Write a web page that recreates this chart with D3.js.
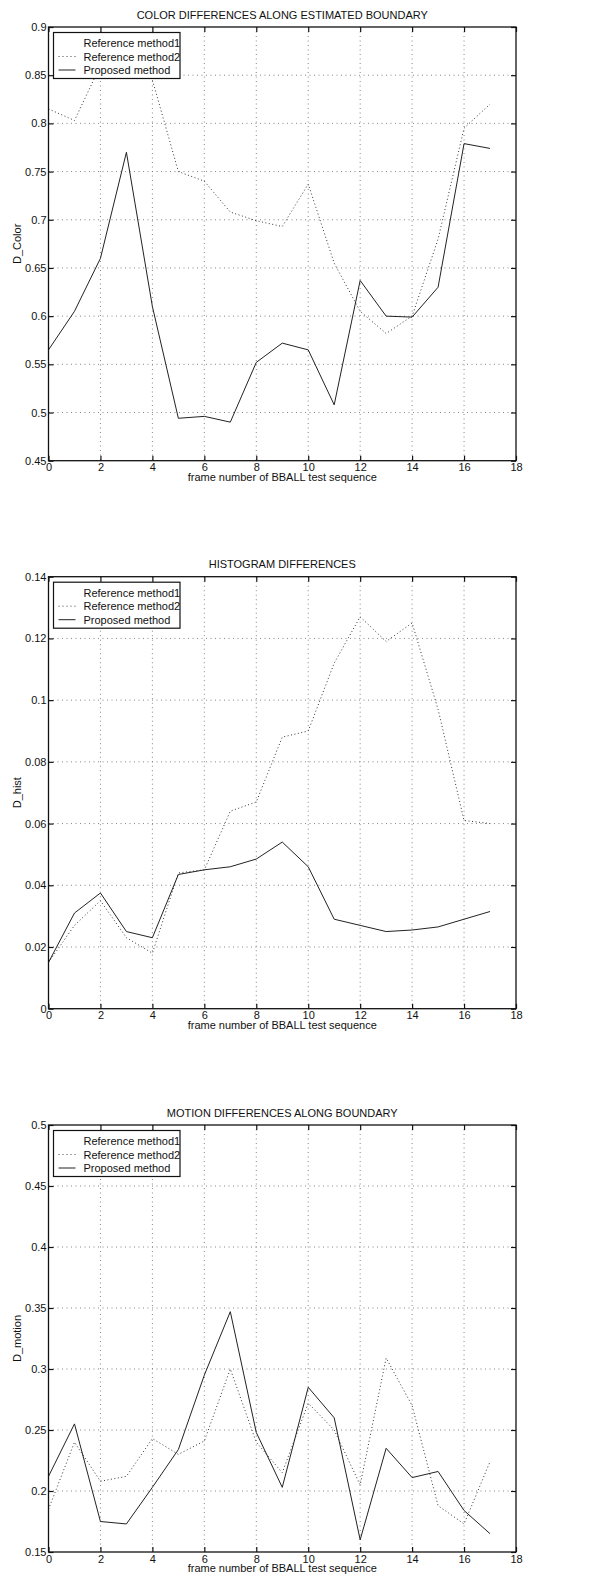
<!DOCTYPE html>
<html lang="en">
<head>
  <meta charset="UTF-8">
  <title>Boundary differences - BBALL</title>
  <script src="https://d3js.org/d3.v7.min.js"></script>
  <style>
    body { margin: 0; background: #fff; }
    text { font-family: "Liberation Sans", Arial, sans-serif; font-size: 11px; fill: #111; }
    .grid line { stroke: #777; stroke-dasharray: 1 3.5; stroke-width: 0.9; }
    .frame { fill: none; stroke: #111; stroke-width: 1.3; }
  </style>
</head>
<body>
  <div id="chart"></div>
  <script>
    const width = 613, height = 1586;

    // frame numbers shared by all three panels
    const frames = d3.range(0, 18);
    const legendNames = ["Reference method1", "Reference method2", "Proposed method"];

    // panel 1: color differences
    const colorMethod2 = [0.815, 0.803, 0.86, 0.88, 0.845, 0.75, 0.74, 0.708, 0.699, 0.693, 0.737, 0.655, 0.605, 0.582, 0.600, 0.680, 0.795, 0.820];
    const colorProposed = [0.565, 0.605, 0.660, 0.770, 0.610, 0.494, 0.496, 0.490, 0.552, 0.572, 0.565, 0.508, 0.637, 0.600, 0.599, 0.630, 0.779, 0.774];
    const colorTicks = [0.45, 0.5, 0.55, 0.6, 0.65, 0.7, 0.75, 0.8, 0.85, 0.9];

    // panel 2: histogram differences
    const histMethod2 = [0.015, 0.027, 0.035, 0.023, 0.018, 0.044, 0.045, 0.064, 0.067, 0.088, 0.090, 0.112, 0.127, 0.119, 0.125, 0.097, 0.061, 0.060];
    const histProposed = [0.015, 0.031, 0.0375, 0.025, 0.023, 0.0435, 0.045, 0.046, 0.0485, 0.054, 0.046, 0.029, 0.027, 0.025, 0.0255, 0.0265, 0.029, 0.0315];
    const histTicks = [0, 0.02, 0.04, 0.06, 0.08, 0.1, 0.12, 0.14];

    // panel 3: motion differences
    const motionMethod2 = [0.185, 0.240, 0.208, 0.212, 0.243, 0.230, 0.241, 0.300, 0.240, 0.215, 0.272, 0.250, 0.205, 0.309, 0.270, 0.188, 0.173, 0.224];
    const motionProposed = [0.212, 0.255, 0.175, 0.173, 0.203, 0.234, 0.295, 0.347, 0.248, 0.203, 0.285, 0.260, 0.160, 0.235, 0.211, 0.216, 0.184, 0.165];
    const motionTicks = [0.15, 0.2, 0.25, 0.3, 0.35, 0.4, 0.45, 0.5];

    const xTicks = d3.range(0, 19, 2);

    const svg = d3.select("#chart").append("svg")
      .attr("width", width)
      .attr("height", height);

    const left = 48.5, right = 516;
    const x = d3.scaleLinear().domain([0, 18]).range([left, right]);

    function panel(cfg) {
      const y = d3.scaleLinear().domain(cfg.domain).range([cfg.bottom, cfg.top]);
      const g = svg.append("g");

      // dotted grid
      const grid = g.append("g").attr("class", "grid");
      grid.selectAll(".gx").data(xTicks.slice(1, -1)).enter().append("line")
        .attr("x1", d => x(d)).attr("x2", d => x(d))
        .attr("y1", cfg.top).attr("y2", cfg.bottom);
      grid.selectAll(".gy").data(cfg.ticks.slice(1, -1)).enter().append("line")
        .attr("x1", left).attr("x2", right)
        .attr("y1", d => y(d)).attr("y2", d => y(d));

      // axes with inward ticks on all four sides
      const fmt = d => String(+d.toFixed(3));
      g.append("g").attr("transform", `translate(0,${cfg.bottom})`)
        .call(d3.axisBottom(x).tickValues(xTicks).tickSizeInner(-5).tickSizeOuter(0).tickPadding(3).tickFormat(fmt));
      g.append("g").attr("transform", `translate(0,${cfg.top})`)
        .call(d3.axisTop(x).tickValues(xTicks).tickSizeInner(-5).tickSizeOuter(0).tickFormat(""));
      g.append("g").attr("transform", `translate(${left},0)`)
        .call(d3.axisLeft(y).tickValues(cfg.ticks).tickSizeInner(-5).tickSizeOuter(0).tickPadding(2).tickFormat(fmt));
      g.append("g").attr("transform", `translate(${right},0)`)
        .call(d3.axisRight(y).tickValues(cfg.ticks).tickSizeInner(-5).tickSizeOuter(0).tickFormat(""));
      g.selectAll(".domain").remove();
      g.selectAll(".tick line").attr("stroke", "#111").attr("stroke-width", 1.2);
      g.selectAll(".tick text").attr("font-size", 11).attr("font-family", "Liberation Sans, Arial, sans-serif").attr("fill", "#111");

      const line = d3.line().x((d, i) => x(frames[i])).y(d => y(d));
      g.append("path").datum(cfg.method2)
        .attr("fill", "none").attr("stroke", "#333").attr("stroke-width", 1)
        .attr("stroke-dasharray", "1 2.5").attr("d", line);
      g.append("path").datum(cfg.proposed)
        .attr("fill", "none").attr("stroke", "#222").attr("stroke-width", 1)
        .attr("d", line);

      g.append("rect").attr("class", "frame")
        .attr("x", left).attr("y", cfg.top)
        .attr("width", right - left).attr("height", cfg.bottom - cfg.top);

      // legend
      const lg = g.append("g").attr("transform", `translate(53.5,${cfg.top + 5.5})`);
      lg.append("rect").attr("width", 126.5).attr("height", 46)
        .attr("fill", "#fff").attr("stroke", "#111").attr("stroke-width", 1.2);
      const styles = [
        { stroke: "none", dash: null },
        { stroke: "#444", dash: "1 3" },
        { stroke: "#222", dash: null }
      ];
      legendNames.forEach((name, i) => {
        const yy = 10.5 + i * 13.5;
        lg.append("line").attr("x1", 5).attr("x2", 22).attr("y1", yy).attr("y2", yy)
          .attr("stroke", styles[i].stroke).attr("stroke-dasharray", styles[i].dash);
        lg.append("text").attr("x", 30).attr("y", yy + 4).text(name);
      });

      // titles and labels
      svg.append("text").attr("x", (left + right) / 2).attr("y", cfg.top - 8.5)
        .attr("text-anchor", "middle").text(cfg.title);
      svg.append("text").attr("x", (left + right) / 2).attr("y", cfg.bottom + 20)
        .attr("text-anchor", "middle").text("frame number of BBALL test sequence");
      svg.append("text")
        .attr("transform", `translate(21,${(cfg.top + cfg.bottom) / 2}) rotate(-90)`)
        .attr("text-anchor", "middle").text(cfg.ylabel);
    }

    panel({ title: "COLOR DIFFERENCES ALONG ESTIMATED BOUNDARY", ylabel: "D_Color",
      top: 27, bottom: 460.7, domain: [0.45, 0.9], ticks: colorTicks,
      method2: colorMethod2, proposed: colorProposed });
    panel({ title: "HISTOGRAM DIFFERENCES", ylabel: "D_hist",
      top: 576.7, bottom: 1008.7, domain: [0, 0.14], ticks: histTicks,
      method2: histMethod2, proposed: histProposed });
    panel({ title: "MOTION DIFFERENCES ALONG BOUNDARY", ylabel: "D_motion",
      top: 1125, bottom: 1552, domain: [0.15, 0.5], ticks: motionTicks,
      method2: motionMethod2, proposed: motionProposed });
  </script>
</body>
</html>
